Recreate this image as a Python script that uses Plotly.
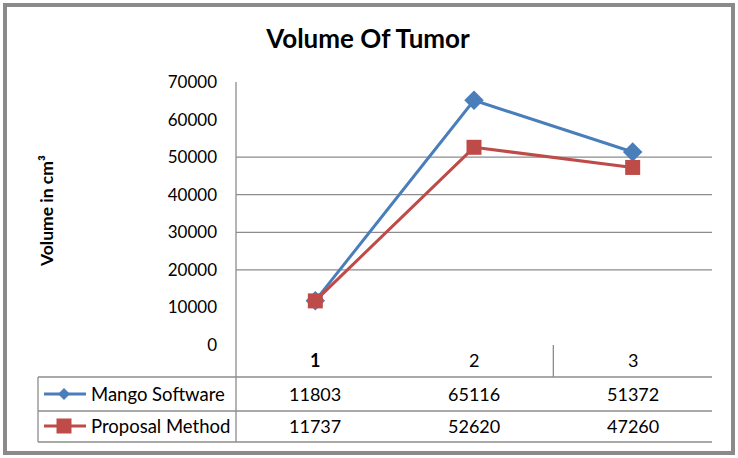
import plotly.graph_objects as go

categories = ["1", "2", "3"]
series_names = ["Mango Software", "Proposal Method"]
mango = [11803, 65116, 51372]
proposal = [11737, 52620, 47260]
y_ticks = [0, 10000, 20000, 30000, 40000, 50000, 60000, 70000]
grid_values = [20000, 30000, 40000, 50000]

BLUE = "#4a7ebb"
RED = "#be4b48"
GRID = "#8c8c8c"
FONT = "Lato"

W, H = 738, 458
L, R, T, B = 236, 26, 82, 113
PW = W - L - R
PH = H - T - B


def px(x):
    return (x - L) / PW


def py(y):
    return (H - B - y) / PH


xs = list(range(1, len(categories) + 1))

fig = go.Figure()
fig.add_trace(go.Scatter(x=xs, y=mango, mode="lines+markers", name=series_names[0],
                         line=dict(color=BLUE, width=3),
                         marker=dict(symbol="diamond", size=15, color=BLUE)))
fig.add_trace(go.Scatter(x=xs, y=proposal, mode="lines+markers", name=series_names[1],
                         line=dict(color=RED, width=3),
                         marker=dict(symbol="square", size=15, color=RED)))

shapes = []
for g in grid_values:
    shapes.append(dict(type="line", xref="paper", yref="y", x0=0, x1=1, y0=g, y1=g,
                       line=dict(color=GRID, width=1.3), layer="below"))
shapes.append(dict(type="line", xref="paper", yref="paper", x0=0, x1=0, y0=1, y1=py(442),
                   line=dict(color=GRID, width=1.3)))
shapes.append(dict(type="line", xref="x", yref="paper", x0=2.5, x1=2.5, y0=0, y1=py(377),
                   line=dict(color=GRID, width=1.3)))
for yy in [377, 411, 442]:
    shapes.append(dict(type="line", xref="paper", yref="paper", x0=px(38), x1=1, y0=py(yy), y1=py(yy),
                       line=dict(color=GRID, width=1.3)))
shapes.append(dict(type="line", xref="paper", yref="paper", x0=px(38), x1=px(38), y0=py(377), y1=py(442),
                   line=dict(color=GRID, width=1.3)))
for row_y, col in [(394, BLUE), (426, RED)]:
    shapes.append(dict(type="line", xref="paper", yref="paper", x0=px(44), x1=px(86), y0=py(row_y), y1=py(row_y),
                       line=dict(color=col, width=3)))
cx, cy = 64, 394
shapes.append(dict(type="path", xref="paper", yref="paper",
                   path=f"M {px(cx-6)} {py(cy)} L {px(cx)} {py(cy-6)} L {px(cx+6)} {py(cy)} L {px(cx)} {py(cy+6)} Z",
                   fillcolor=BLUE, line=dict(color=BLUE, width=0)))
cx, cy = 64, 426
shapes.append(dict(type="rect", xref="paper", yref="paper", x0=px(cx-7.5), x1=px(cx+7.5), y0=py(cy-7.5), y1=py(cy+7.5),
                   fillcolor=RED, line=dict(color=RED, width=0)))
shapes.append(dict(type="rect", xref="paper", yref="paper", x0=px(5), x1=px(733), y0=py(5), y1=py(453),
                   line=dict(color="#8a8a8a", width=4)))

TXT = dict(family=FONT, size=18, color="#000")
annotations = []
for i, c in enumerate(categories):
    annotations.append(dict(x=xs[i], y=py(360), xref="x", yref="paper", text=(f"<b>{c}</b>" if i == 0 else c),
                            xanchor="center", yanchor="middle", showarrow=False, font=TXT))
for vals, row_y in [(mango, 394), (proposal, 426)]:
    for i, v in enumerate(vals):
        annotations.append(dict(x=xs[i], y=py(row_y), xref="x", yref="paper", text=str(v),
                                xanchor="center", yanchor="middle", showarrow=False, font=TXT))
for name, row_y in [(series_names[0], 394), (series_names[1], 426)]:
    annotations.append(dict(x=px(89), y=py(row_y), xref="paper", yref="paper", text=name, xanchor="left",
                            yanchor="middle", showarrow=False, font=dict(family=FONT, size=18.5, color="#000")))
annotations.append(dict(x=px(46), y=py(211), xref="paper", yref="paper", text="<b>Volume in cm³</b>",
                        textangle=-90, xanchor="center", yanchor="middle", showarrow=False,
                        font=dict(family=FONT, size=17.5, color="#000")))

fig.update_layout(
    width=W, height=H,
    margin=dict(l=L, r=R, t=T, b=B),
    paper_bgcolor="white", plot_bgcolor="white",
    showlegend=False,
    title=dict(text="<b>Volume Of Tumor</b>", x=368 / W, xanchor="center", y=1 - 39 / H, yanchor="middle",
               font=dict(family=FONT, size=26, color="#000")),
    xaxis=dict(range=[0.5, len(categories) + 0.5], showgrid=False, zeroline=False, showticklabels=False,
               showline=False, fixedrange=True),
    yaxis=dict(range=[0, 70000], tickvals=y_ticks, ticktext=[str(v) for v in y_ticks], showgrid=False,
               zeroline=False, showline=False, ticklabelstandoff=18,
               tickfont=dict(family=FONT, size=17, color="#000")),
    shapes=shapes,
    annotations=annotations,
)

fig.write_html("out.html")
